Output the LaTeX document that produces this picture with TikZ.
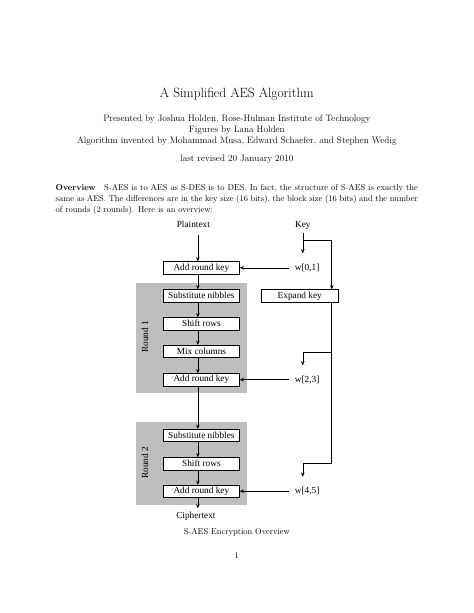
\documentclass[tikz,border=0pt]{standalone}
\usepackage{fontspec}
\newfontfamily\figfont{Liberation Serif}
\usetikzlibrary{arrows.meta}

\begin{document}
\begin{tikzpicture}[x=1pt,y=1pt,
  txt/.style={anchor=base,inner sep=0pt,outer sep=0pt},
  body/.style={font=\fontsize{10.95}{13.6}\selectfont},
  fig/.style={font=\figfont\fontsize{12}{14}\selectfont,inner sep=0pt,outer sep=0pt},
  stage/.style={fig,draw=drawColor,fill=fillColor,line width=0.7pt,minimum width=99pt,minimum height=16.5pt},
  wire/.style={draw=drawColor,line width=0.7pt},
  flow/.style={wire,-{Stealth[length=5.5pt,width=4.5pt]}}]
\definecolor{fillColor}{RGB}{255,255,255}
\definecolor{drawColor}{RGB}{0,0,0}
\definecolor{roundColor}{RGB}{190,190,190}
\path[use as bounding box,fill=fillColor] (0,0) rectangle (612.00,792.00);

% title block
\node[txt,font=\fontsize{17.28}{22}\selectfont] (title) at (306.00,666.40) {A Simplified AES Algorithm};
\node[txt,font=\fontsize{12}{14.5}\selectfont] (author) at (306.00,635.40) {Presented by Joshua Holden, Rose-Hulman Institute of Technology};
\node[txt,font=\fontsize{12}{14.5}\selectfont] (figs) at (306.00,621.20) {Figures by Lana Holden};
\node[txt,font=\fontsize{12}{14.5}\selectfont] (inventors) at (306.00,607.00) {Algorithm invented by Mohammad Musa, Edward Schaefer, and Stephen Wedig};
\node[txt,font=\fontsize{12}{14.5}\selectfont] (date) at (306.00,582.80) {last revised 20 January 2010};

% overview paragraph
\node[txt,body,anchor=base west] (par1) at ( 72.00,545.40) {\makebox[468pt][s]{\textbf{Overview}\quad S-AES is to AES as S-DES is to DES. In fact, the structure of S-AES is exactly the}};
\node[txt,body,anchor=base west] (par2) at ( 72.00,531.20) {\makebox[468pt][s]{same as AES. The differences are in the key size (16 bits), the block size (16 bits) and the number}};
\node[txt,body,anchor=base west] (par3) at ( 72.00,517.40) {of rounds (2 rounds). Here is an overview:};

% rounds
\path[fill=roundColor] (175.60,284.60) rectangle (318.90,426.60);
\path[fill=roundColor] (175.60,140.00) rectangle (318.90,247.20);
\node[fig,rotate=90] (round1) at (187.20,356.90) {Round 1};
\node[fig,rotate=90] (round2) at (187.20,194.20) {Round 2};

% data path
\node[txt,fig] (plain) at (249.80,498.30) {Plaintext};
\node[stage] (ark0) at (260.20,446.00) {Add round key};
\node[stage] (sub1) at (260.20,409.80) {Substitute nibbles};
\node[stage] (shift1) at (260.20,373.70) {Shift rows};
\node[stage] (mix1) at (260.20,338.20) {Mix columns};
\node[stage] (ark1) at (260.20,301.40) {Add round key};
\node[stage] (sub2) at (260.20,229.70) {Substitute nibbles};
\node[stage] (shift2) at (260.20,192.90) {Shift rows};
\node[stage] (ark2) at (260.20,157.40) {Add round key};
\node[txt,fig] (ciph) at (253.10,121.90) {Ciphertext};

% key path
\node[txt,fig] (key) at (391.20,498.30) {Key};
\node[stage] (expand) at (387.30,409.80) {Expand key};
\node[fig] (w0) at (396.80,446.00) {w[0,1]};
\node[fig] (w1) at (396.80,301.40) {w[2,3]};
\node[fig] (w2) at (396.80,157.40) {w[4,5]};

\coordinate (spine) at (255.60,  0.00);
\coordinate (rail) at (428.60,  0.00);
\coordinate (kfork) at (391.20,482.10);
\coordinate (fork1) at (391.20,337.50);
\coordinate (fork2) at (391.20,192.90);

\path[flow,shorten <=9.5pt] (plain.south -| spine) -- (spine |- ark0.north);
\path[flow] (ark0.south -| spine) -- (spine |- sub1.north);
\path[flow] (sub1.south -| spine) -- (spine |- shift1.north);
\path[flow] (shift1.south -| spine) -- (spine |- mix1.north);
\path[flow] (mix1.south -| spine) -- (spine |- ark1.north);
\path[flow] (ark1.south -| spine) -- (spine |- sub2.north);
\path[flow] (sub2.south -| spine) -- (spine |- shift2.north);
\path[flow] (shift2.south -| spine) -- (spine |- ark2.north);
\path[flow,shorten >=5pt] (ark2.south -| spine) -- (spine |- ciph.north);

\path[flow,shorten <=4.5pt,shorten >=13.5pt] (key.south) -- (key.south |- w0.north);
\path[flow] (kfork) -| (rail |- expand.north);
\path[wire] (rail |- expand.south) -- (rail |- fork1);
\path[flow,shorten >=13.5pt] (rail |- fork1) -- (fork1) -- (fork1 |- w1.north);
\path[flow,shorten >=13.5pt] (rail |- fork1) |- (fork2) -- (fork2 |- w2.north);

\path[flow,shorten <=7pt] (w0.west) -- (ark0.east);
\path[flow,shorten <=7pt] (w1.west) -- (ark1.east);
\path[flow,shorten <=7pt] (w2.west) -- (ark2.east);

% caption
\node[txt,body] (caption) at (306.00,101.00) {S-AES Encryption Overview};
\node[txt,body] (page) at (306.00, 70.50) {1};
\end{tikzpicture}
\end{document}
